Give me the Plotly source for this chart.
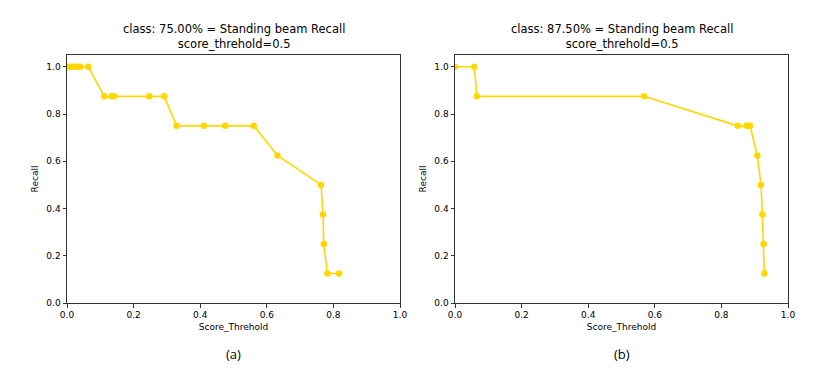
import plotly.graph_objects as go

# panel (a): class 75.00%
score_a = [0.0, 0.008, 0.016, 0.024, 0.032, 0.04, 0.064, 0.112, 0.134, 0.141, 0.247, 0.292,
           0.329, 0.411, 0.475, 0.561, 0.632, 0.763, 0.769, 0.771, 0.782, 0.817]
recall_a = [1.0, 1.0, 1.0, 1.0, 1.0, 1.0, 1.0, 0.875, 0.875, 0.875, 0.875, 0.875,
            0.75, 0.75, 0.75, 0.75, 0.625, 0.5, 0.375, 0.25, 0.125, 0.125]

# panel (b): class 87.50%
score_b = [0.0, 0.058, 0.066, 0.568, 0.849, 0.876, 0.881, 0.886, 0.908, 0.919, 0.923, 0.927, 0.929]
recall_b = [1.0, 1.0, 0.875, 0.875, 0.75, 0.75, 0.75, 0.75, 0.625, 0.5, 0.375, 0.25, 0.125]

titles = ["class: 75.00% = Standing beam Recall<br>score_threhold=0.5",
          "class: 87.50% = Standing beam Recall<br>score_threhold=0.5"]
captions = ["(a)", "(b)"]
ticks = [0.0, 0.2, 0.4, 0.6, 0.8, 1.0]
tick_text = [f"{t:.1f}" for t in ticks]

gold = "#FFD700"
mpl_font = dict(family="DejaVu Sans", size=9, color="#000000")

fig = go.Figure()
fig.add_trace(go.Scatter(x=score_a, y=recall_a, mode="lines+markers", xaxis="x", yaxis="y",
                         line=dict(color=gold, width=1.6), marker=dict(color=gold, size=6.5)))
fig.add_trace(go.Scatter(x=score_b, y=recall_b, mode="lines+markers", xaxis="x2", yaxis="y2",
                         line=dict(color=gold, width=1.6), marker=dict(color=gold, size=6.5)))

W, H = 834, 386
off = 8  # page body margin
dom_x = [[(67 - off) / W, (400 - off) / W], [(455 - off) / W, (788 - off) / W]]
dom_y = [1 - (303 - off) / H, 1 - (55 - off) / H]

axis_common = dict(showline=True, linecolor="#333333", linewidth=1, mirror=True,
                   ticks="outside", ticklen=3.5, tickcolor="#333333", showgrid=False,
                   zeroline=False, tickfont=mpl_font, tickvals=ticks, ticktext=tick_text,
                   automargin=False)

layout = dict(width=W, height=H, margin=dict(l=0, r=0, t=0, b=0),
              plot_bgcolor="white", paper_bgcolor="white", showlegend=False)
for i, suf in enumerate(["", "2"]):
    layout["xaxis" + suf] = dict(axis_common, domain=dom_x[i], range=[0, 1],
                                 title=dict(text="Score_Threhold", font=mpl_font, standoff=4),
                                 anchor="y" + suf)
    layout["yaxis" + suf] = dict(axis_common, domain=dom_y, range=[0, 1.05],
                                 title=dict(text="Recall", font=mpl_font, standoff=6),
                                 anchor="x" + suf)
fig.update_layout(**layout)

for i in range(2):
    xc = (dom_x[i][0] + dom_x[i][1]) / 2
    fig.add_annotation(x=xc, y=1 - (53 - off) / H, xref="paper", yref="paper", xanchor="center",
                       yanchor="bottom", text=titles[i], showarrow=False,
                       font=dict(family="DejaVu Sans", size=11.5, color="#000000"))
    fig.add_annotation(x=xc, y=1 - (354 - off) / H, xref="paper", yref="paper", xanchor="center",
                       yanchor="middle", text=captions[i], showarrow=False,
                       font=dict(family="Open Sans", size=13, color="#000000"))

fig.write_html("out.html")
